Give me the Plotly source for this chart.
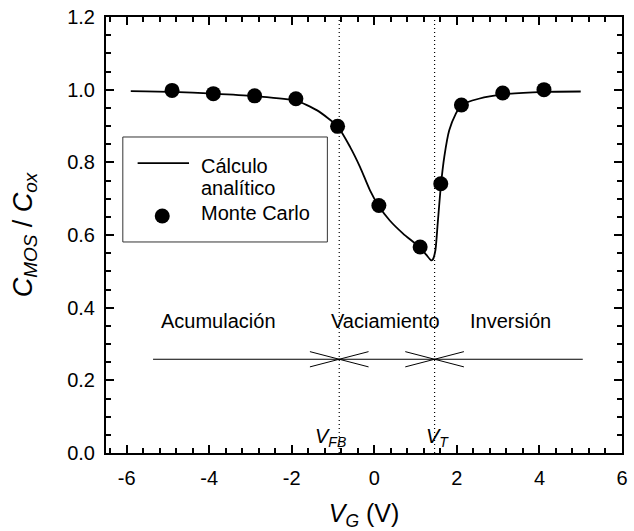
import plotly.graph_objects as go

# ---- data ----
curve_x = [-5.9, -4.9, -3.9, -2.9, -1.9, -1.385, -0.89, -0.585, -0.345, -0.105, 0.096,
           0.374, 0.696, 1.11, 1.255, 1.375, 1.415, 1.48, 1.535, 1.615, 1.695, 1.815,
           1.975, 2.11, 2.53, 3.11, 4.11, 5.0]
curve_y = [0.996, 0.994, 0.989, 0.982, 0.970, 0.943, 0.899, 0.842, 0.787, 0.723, 0.682,
           0.640, 0.604, 0.565, 0.546, 0.530, 0.532, 0.558, 0.631, 0.739, 0.815, 0.888,
           0.934, 0.958, 0.975, 0.987, 0.994, 0.995]

mc_x = [-4.9, -3.9, -2.9, -1.9, -0.89, 0.11, 1.11, 1.61, 2.11, 3.11, 4.11]
mc_y = [0.998, 0.989, 0.983, 0.975, 0.899, 0.681, 0.567, 0.741, 0.958, 0.991, 1.0]

region_labels = ["Acumulación", "Vaciamiento", "Inversión"]
region_x = [-3.77, 0.27, 3.3]
region_y = 0.3625

V_FB = -0.85
V_T = 1.46
threshold_labels = ["<i>V</i><sub><i>FB</i></sub>", "<i>V</i><sub><i>T</i></sub>"]
threshold_label_x = [-1.07, 1.54]
threshold_label_y = 0.044

bar_y = 0.258
bar_span = [-5.36, 5.05]
cross_half_w = 0.71
cross_half_h = 0.021

x_ticks = [-6, -4, -2, 0, 2, 4, 6]
x_ticktext = ["-6", "-4", "-2", "0", "2", "4", "6"]
y_ticks = [0.0, 0.2, 0.4, 0.6, 0.8, 1.0, 1.2]
y_ticktext = ["0.0", "0.2", "0.4", "0.6", "0.8", "1.0", "1.2"]

legend_lines = ["Cálculo", "analítico", "Monte Carlo"]

FONT = "Liberation Sans, Arial, Helvetica, sans-serif"

fig = go.Figure()

fig.add_trace(go.Scatter(
    x=curve_x, y=curve_y, mode="lines", name="Cálculo analítico", showlegend=False,
    line=dict(color="black", width=1.8, shape="spline", smoothing=0.6)))
fig.add_trace(go.Scatter(
    x=mc_x, y=mc_y, mode="markers", name="Monte Carlo", showlegend=False,
    marker=dict(color="black", size=15, symbol="circle")))

# horizontal region bar
fig.add_trace(go.Scatter(x=bar_span, y=[bar_y, bar_y], mode="lines",
                         line=dict(color="black", width=1), showlegend=False,
                         hoverinfo="skip"))

shapes = []
for v in [V_FB, V_T]:
    shapes.append(dict(type="line", xref="x", yref="y domain", x0=v, x1=v, y0=0, y1=1,
                       line=dict(color="black", width=1.2, dash="1px,3px")))
    shapes.append(dict(type="line", xref="x", yref="y",
                       x0=v - cross_half_w, x1=v + cross_half_w,
                       y0=bar_y + cross_half_h, y1=bar_y - cross_half_h,
                       line=dict(color="black", width=1)))
    shapes.append(dict(type="line", xref="x", yref="y",
                       x0=v - cross_half_w, x1=v + cross_half_w,
                       y0=bar_y - cross_half_h, y1=bar_y + cross_half_h,
                       line=dict(color="black", width=1)))

# legend (drawn in the axes' domain coordinates)
shapes.append(dict(type="rect", xref="x domain", yref="y domain",
                   x0=0.0326, x1=0.429, y0=0.484, y1=0.7248,
                   line=dict(color="#333", width=1), fillcolor="white", layer="above"))
shapes.append(dict(type="line", xref="x domain", yref="y domain",
                   x0=0.0613, x1=0.1609, y0=0.665, y1=0.665,
                   line=dict(color="black", width=1.8), layer="above"))
shapes.append(dict(type="circle", xref="x domain", yref="y domain",
                   xsizemode="pixel", ysizemode="pixel", xanchor=0.109, yanchor=0.5436,
                   x0=-7.5, x1=7.5, y0=-7.5, y1=7.5,
                   line=dict(color="black", width=0), fillcolor="black", layer="above"))

annotations = []
for lab, xx in zip(region_labels, region_x):
    annotations.append(dict(x=xx, y=region_y, xref="x", yref="y", text=lab,
                            showarrow=False, font=dict(size=20, color="black", family=FONT)))
for lab, xx in zip(threshold_labels, threshold_label_x):
    annotations.append(dict(x=xx, y=threshold_label_y, xref="x", yref="y", text=lab,
                            showarrow=False, font=dict(size=20, color="black", family=FONT)))
for lab, yy in zip(legend_lines, [0.658, 0.6075, 0.5515]):
    annotations.append(dict(x=0.180, y=yy, xref="x domain", yref="y domain", text=lab,
                            xanchor="left", yanchor="middle", showarrow=False,
                            font=dict(size=20, color="black", family=FONT)))

axis_common = dict(showline=True, linecolor="black", linewidth=2, mirror="ticks",
                   ticks="inside", ticklen=8, tickwidth=2, tickcolor="black",
                   showgrid=False, zeroline=False,
                   tickfont=dict(size=20, color="black", family=FONT))

fig.update_layout(
    width=634, height=531,
    margin=dict(l=106, r=6, t=17, b=78),
    paper_bgcolor="white", plot_bgcolor="white",
    font=dict(family=FONT, color="black"),
    shapes=shapes, annotations=annotations,
    showlegend=False,
    xaxis=dict(range=[-6.5, 6], tickmode="array", tickvals=x_ticks, ticktext=x_ticktext,
               ticklabelstandoff=6,
               minor=dict(tickmode="linear", dtick=0.4, tick0=0, ticks="inside", ticklen=5,
                          tickwidth=1.5, tickcolor="black"),
               title=dict(text="<i>V</i><sub><i>G</i></sub> (V)",
                          font=dict(size=25, family=FONT), standoff=17),
               **axis_common),
    yaxis=dict(range=[0, 1.2], tickmode="array", tickvals=y_ticks, ticktext=y_ticktext,
               ticklabelstandoff=5,
               minor=dict(tickmode="linear", dtick=0.05, tick0=0, ticks="inside", ticklen=5,
                          tickwidth=1.5, tickcolor="black"),
               title=dict(text="<i>C</i><sub><i>MOS</i></sub> / <i>C</i><sub><i>ox</i></sub>",
                          font=dict(size=27, family=FONT), standoff=27),
               **axis_common),
)

fig.write_html("out.html")
